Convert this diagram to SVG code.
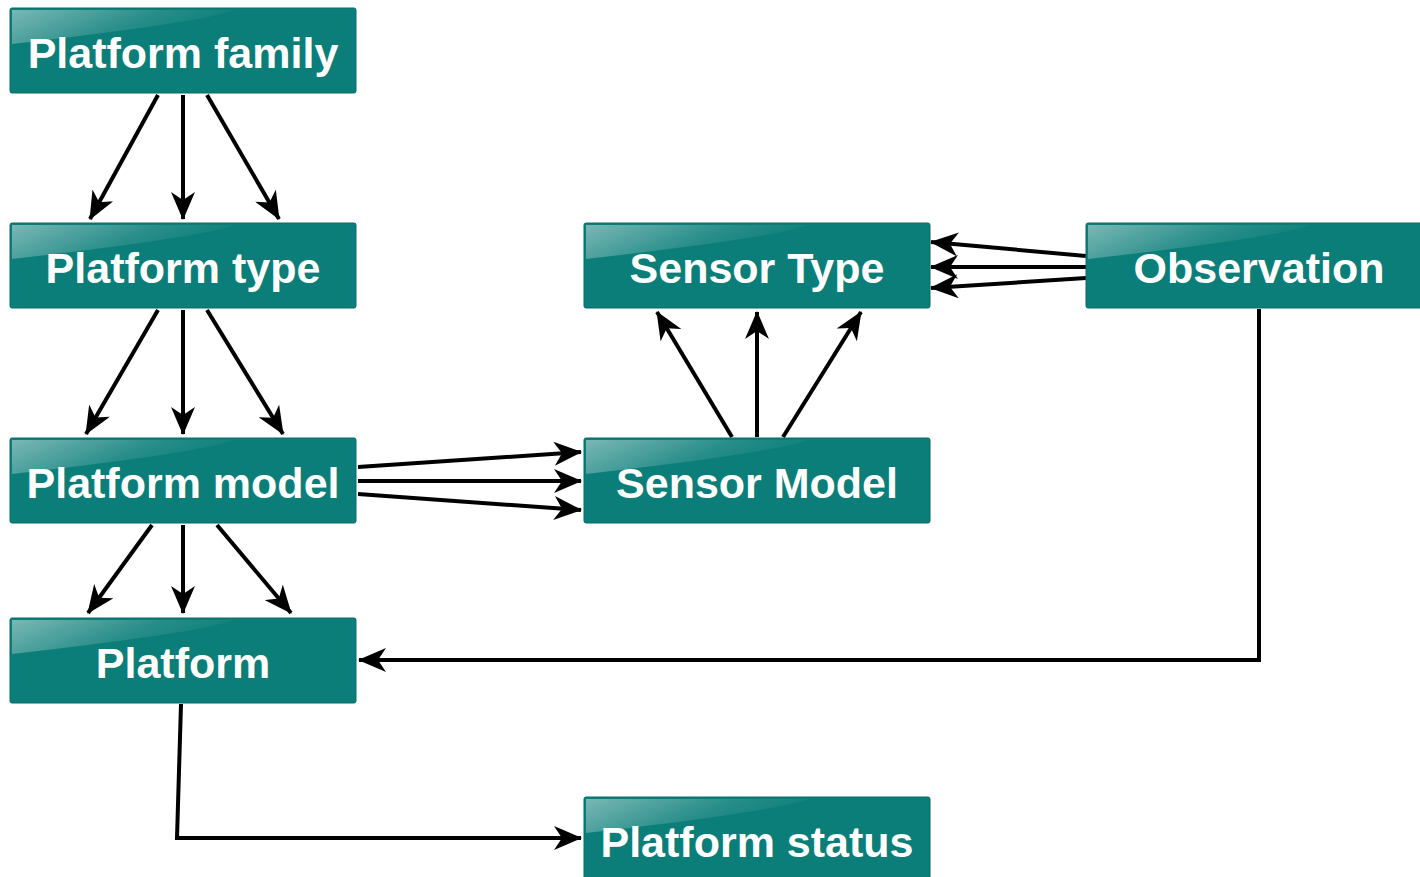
<svg xmlns="http://www.w3.org/2000/svg" width="1420" height="877" viewBox="0 0 1420 877">
<style>
.box{fill:#0b7e79;stroke:#0a6d69;stroke-width:1}
.gloss{fill:url(#gl)}
.lbl{font-family:"Liberation Sans",Arial,sans-serif;font-weight:bold;font-size:43px;fill:#ffffff;text-anchor:middle}
.c{fill:none;stroke:#000;stroke-width:4;marker-end:url(#ah)}
</style>
<defs>
<linearGradient id="gl" x1="0" y1="0" x2="1" y2="0.35">
<stop offset="0" stop-color="#ffffff" stop-opacity="0.45"/>
<stop offset="0.6" stop-color="#ffffff" stop-opacity="0.12"/>
<stop offset="1" stop-color="#ffffff" stop-opacity="0"/>
</linearGradient>
<marker id="ah" viewBox="0 0 28 24" refX="27" refY="12" markerWidth="28" markerHeight="24" markerUnits="userSpaceOnUse" orient="auto">
<path d="M0,0 L28,12 L0,24 L8,12 Z" fill="#000"/>
</marker>
</defs>
<g id="connectors">
<line class="c" x1="158" y1="95" x2="90" y2="219"/>
<line class="c" x1="183" y1="95" x2="183" y2="219"/>
<line class="c" x1="207" y1="95" x2="279" y2="219"/>
<line class="c" x1="158" y1="310" x2="86" y2="434"/>
<line class="c" x1="183" y1="310" x2="183" y2="434"/>
<line class="c" x1="207" y1="310" x2="283" y2="434"/>
<line class="c" x1="152" y1="525" x2="88" y2="613"/>
<line class="c" x1="183" y1="525" x2="183" y2="613"/>
<line class="c" x1="217" y1="525" x2="291" y2="613"/>
<line class="c" x1="732" y1="437" x2="657" y2="312"/>
<line class="c" x1="757" y1="437" x2="757" y2="312"/>
<line class="c" x1="783" y1="437" x2="861" y2="312"/>
<line class="c" x1="358" y1="467" x2="581" y2="452"/>
<line class="c" x1="358" y1="481" x2="581" y2="481"/>
<line class="c" x1="358" y1="494" x2="581" y2="510"/>
<line class="c" x1="1086" y1="256" x2="931" y2="242"/>
<line class="c" x1="1086" y1="267" x2="931" y2="267"/>
<line class="c" x1="1086" y1="278" x2="931" y2="288"/>
<polyline class="c" points="1259,309 1259,660 359,660"/>
<polyline class="c" points="181,704 177,838 581,838"/>
</g>
<g id="platform-family">
<rect class="box" x="10" y="8" width="346" height="85" rx="2"/>
<path class="gloss" d="M12,10 H234 Q205,22 12,44 Z"/>
<text class="lbl" x="183" y="68">Platform family</text>
</g>
<g id="platform-type">
<rect class="box" x="10" y="223" width="346" height="85" rx="2"/>
<path class="gloss" d="M12,225 H234 Q205,237 12,259 Z"/>
<text class="lbl" x="183" y="283">Platform type</text>
</g>
<g id="platform-model">
<rect class="box" x="10" y="438" width="346" height="85" rx="2"/>
<path class="gloss" d="M12,440 H234 Q205,452 12,474 Z"/>
<text class="lbl" x="183" y="498">Platform model</text>
</g>
<g id="platform">
<rect class="box" x="10" y="618" width="346" height="85" rx="2"/>
<path class="gloss" d="M12,620 H234 Q205,632 12,654 Z"/>
<text class="lbl" x="183" y="678">Platform</text>
</g>
<g id="sensor-type">
<rect class="box" x="584" y="223" width="346" height="85" rx="2"/>
<path class="gloss" d="M586,225 H808 Q779,237 586,259 Z"/>
<text class="lbl" x="757" y="283">Sensor Type</text>
</g>
<g id="sensor-model">
<rect class="box" x="584" y="438" width="346" height="85" rx="2"/>
<path class="gloss" d="M586,440 H808 Q779,452 586,474 Z"/>
<text class="lbl" x="757" y="498">Sensor Model</text>
</g>
<g id="observation">
<rect class="box" x="1086" y="223" width="346" height="85" rx="2"/>
<path class="gloss" d="M1088,225 H1310 Q1281,237 1088,259 Z"/>
<text class="lbl" x="1259" y="283">Observation</text>
</g>
<g id="platform-status">
<rect class="box" x="584" y="797" width="346" height="85" rx="2"/>
<path class="gloss" d="M586,799 H808 Q779,811 586,833 Z"/>
<text class="lbl" x="757" y="857">Platform status</text>
</g>
</svg>
